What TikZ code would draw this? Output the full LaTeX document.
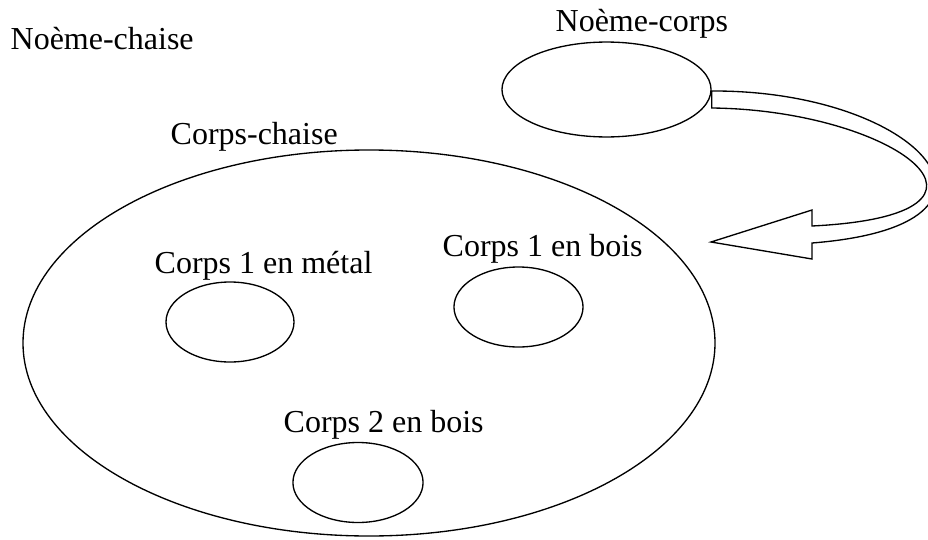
\documentclass[tikz,border=0pt]{standalone}
\usepackage{fontspec}
\setmainfont{Liberation Serif}
\usetikzlibrary{shapes.geometric}

\begin{document}
\begin{tikzpicture}[
    x=0.375pt, y=-0.375pt,
    line width=0.5pt,
    every node/.style={font=\fontsize{12}{14}\selectfont, inner sep=0pt},
    set/.style={ellipse,draw,line width=0.5pt},
    lbl/.style={anchor=base west}
  ]
    \useasboundingbox (0,0) rectangle (928,539);
    \clip (0,0) rectangle (928,539);

    % Outer sets
    \node[set,minimum width=259.5pt,minimum height=144.75pt] (chaise) at (369,343) {};
    \node[set,minimum width=78.4pt,minimum height=35.6pt] (noeme) at (606.5,89.5) {};

    % Inner sets
    \node[set,minimum width=48pt,minimum height=30pt] (metal) at (230,322) {};
    \node[set,minimum width=48.4pt,minimum height=30pt] (bois1) at (518.5,307) {};
    \node[set,minimum width=48.8pt,minimum height=30pt] (bois2) at (358,482.5) {};

    % Labels
    \node[lbl] (lnc) at (10,49) {Noème-chaise};
    \node[lbl] (lno) at (555,32) {Noème-corps};
    \node[lbl] (lch) at (170,144) {Corps-chaise};
    \node[lbl] (lme) at (154,273) {Corps 1 en métal};
    \node[lbl] (lb1) at (442,256) {Corps 1 en bois};
    \node[lbl] (lb2) at (283,432) {Corps 2 en bois};

    % Block arrow
    \coordinate (s1) at (noeme.east |- 0,91);
    \coordinate (s2) at (noeme.east |- 0,108);
    \coordinate (tip) at (711,242);
    \draw[line join=miter] (s1) .. controls (920,90) and (1040,225) .. (812,243)
      -- (812,259) -- (tip) -- (812,210) -- (812,226)
      .. controls (1035,215) and (895,110) .. (s2) -- cycle;
  \end{tikzpicture}
\end{document}
